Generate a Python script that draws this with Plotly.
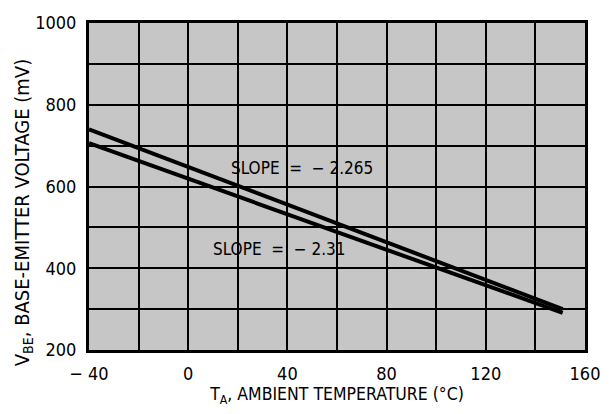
import plotly.graph_objects as go

# Ambient temperature (°C) and base-emitter voltage (mV) for the two devices
temp_a = [-40, 151]
vbe_a = [740, 300]
temp_b = [-40, 151]
vbe_b = [706, 291]

slope_labels = ["SLOPE  =  − 2.265", "SLOPE  =  − 2.31"]
label_x = [46, 37]
label_y = [645, 448]

x_ticks = [-40, 0, 40, 80, 120, 160]
x_tick_text = ["− 40", "0", "40", "80", "120", "160"]
y_ticks = [200, 400, 600, 800, 1000]

FONT = "Liberation Sans Narrow, DejaVu Sans Condensed, Arial Narrow, sans-serif"

fig = go.Figure()
for t, v in [(temp_a, vbe_a), (temp_b, vbe_b)]:
    fig.add_trace(go.Scatter(x=t, y=v, mode="lines",
                             line=dict(color="black", width=4),
                             showlegend=False, hoverinfo="skip"))

for txt, xv, yv in zip(slope_labels, label_x, label_y):
    fig.add_annotation(x=xv, y=yv, text=txt, showarrow=False,
                       font=dict(family=FONT, size=17, color="black"))

# vertical axis title, placed by hand so it sits a little below centre
fig.add_annotation(xref="paper", yref="paper", x=-0.134, y=0.42,
                   xanchor="center", yanchor="middle", textangle=-90,
                   text="V<sub>BE</sub>, BASE-EMITTER VOLTAGE (mV)", showarrow=False,
                   font=dict(family=FONT, size=20, color="black"))

fig.update_xaxes(range=[-40, 160], tickvals=x_ticks, ticktext=x_tick_text,
                 showgrid=True, gridcolor="black", gridwidth=2,
                 minor=dict(dtick=20, showgrid=True, gridcolor="black", gridwidth=2),
                 showline=True, linecolor="black", linewidth=3, mirror=True,
                 zeroline=False, ticks="", ticklabelstandoff=5,
                 tickfont=dict(family=FONT, size=18, color="black"),
                 title=dict(text="T<sub>A</sub>, AMBIENT TEMPERATURE (°C)",
                            font=dict(family=FONT, size=17.5, color="black"),
                            standoff=6))
fig.update_yaxes(range=[200, 1000], tickvals=y_ticks,
                 showgrid=True, gridcolor="black", gridwidth=2,
                 minor=dict(dtick=100, showgrid=True, gridcolor="black", gridwidth=2),
                 showline=True, linecolor="black", linewidth=3, mirror=True,
                 zeroline=False, ticks="", ticklabelstandoff=6,
                 tickfont=dict(family=FONT, size=18, color="black"))

fig.update_layout(width=612, height=414,
                  margin=dict(l=89, r=22, t=20, b=60),
                  paper_bgcolor="white", plot_bgcolor="#c6c6c6")

fig.write_html("out.html")
